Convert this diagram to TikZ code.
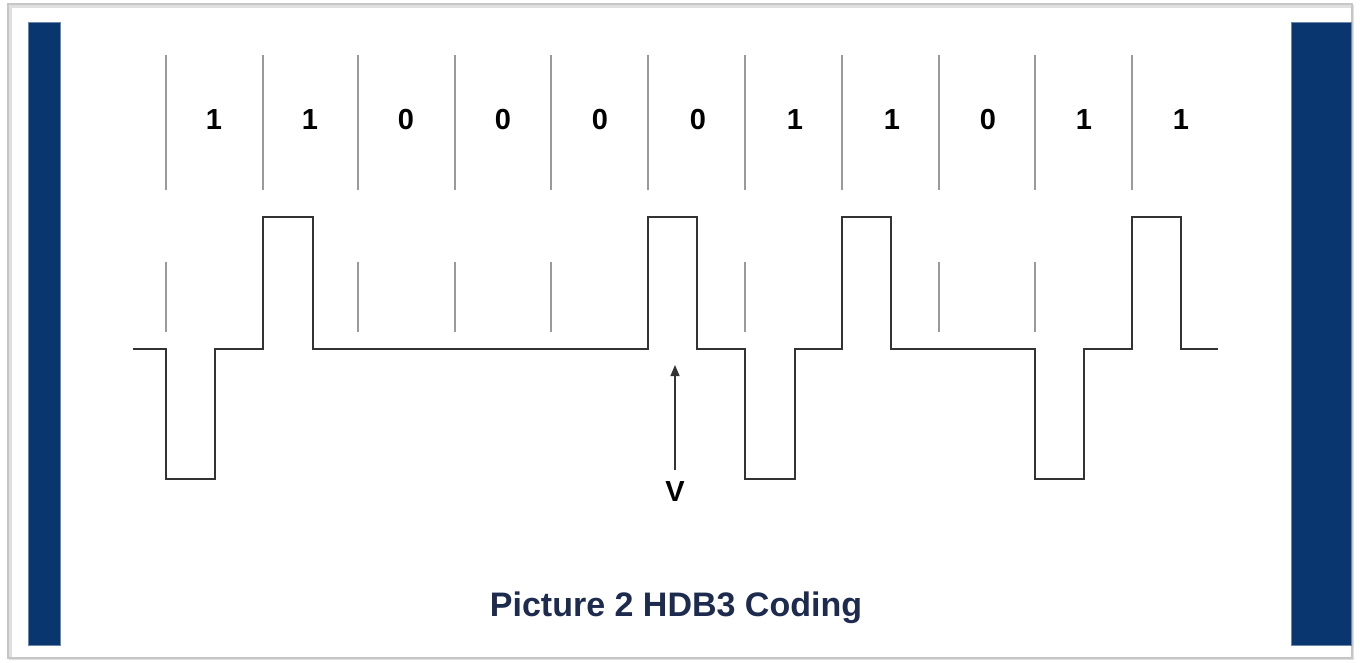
\documentclass[tikz,border=0pt]{standalone}
\usepackage{fontspec}
\setmainfont{Liberation Sans}
\usetikzlibrary{arrows.meta}
\definecolor{barblue}{HTML}{0A3670}
\definecolor{capnavy}{HTML}{1C2B4E}
\definecolor{wave}{HTML}{333333}
\definecolor{divider}{HTML}{9A9A9A}
\begin{document}
\begin{tikzpicture}[x=1pt,y=-1pt,
  sidebar/.style={fill=barblue,draw=barblue!60!white,line width=0.8},
  divline/.style={draw=divider,line width=1.8},
  tickline/.style={draw=divider,line width=1.4},
  signal/.style={draw=wave,line width=2.6,line join=miter},
  bitlabel/.style={font=\fontsize{29}{31}\selectfont\bfseries,text=black,inner sep=0},
  pointer/.style={draw=wave,line width=1.3,-{Triangle[length=11,width=9]}}]
\useasboundingbox (0,0) rectangle (1360,662);
\fill[white] (0,0) rectangle (1360,662);
% outer frame with soft shadow
\draw[gray!25,line width=3] (10,6) rectangle (1352,658);
\draw[gray!45,line width=1.2] (8,4) rectangle (1352,658);
% side bars
\draw[sidebar] (28,22) rectangle (60,645);
\draw[sidebar] (1291,22) rectangle (1351,645);
% bit-cell boundaries
\foreach \x in {166,263,358,455,551,648,745,842,939,1035,1132}
  \draw[divline] (\x,55) -- (\x,190);
% lower clock ticks
\foreach \x in {166,358,455,551,745,939,1035}
  \draw[tickline] (\x,262) -- (\x,332);
% bit values
\foreach \x/\b [count=\i] in {214/1,310/1,406/0,503/0,600/0,698/0,795/1,892/1,988/0,1084/1,1181/1}
  \node[bitlabel] (bit\i) at (\x,120) {\b};
% HDB3 line signal
\draw[signal] (133,349) -- (166,349) -- (166,479) -- (215,479) -- (215,349)
  -- (263,349) -- (263,217) -- (313,217) -- (313,349)
  -- (648,349) -- (648,217) -- (697,217) -- (697,349)
  -- (745,349) -- (745,479) -- (795,479) -- (795,349)
  -- (842,349) -- (842,217) -- (891,217) -- (891,349)
  -- (1035,349) -- (1035,479) -- (1084,479) -- (1084,349)
  -- (1132,349) -- (1132,217) -- (1181,217) -- (1181,349) -- (1218,349);
% violation marker
\node[bitlabel] (viol) at (675,492) {V};
\coordinate (violtip) at (675,365);
\coordinate (violtail) at (675,470);
\draw[pointer] (violtail) -- (violtip);
% caption
\node[font=\fontsize{34}{37}\selectfont\bfseries,text=capnavy,inner sep=0] (caption) at (676,608) {Picture 2 HDB3 Coding};
\end{tikzpicture}
\end{document}
